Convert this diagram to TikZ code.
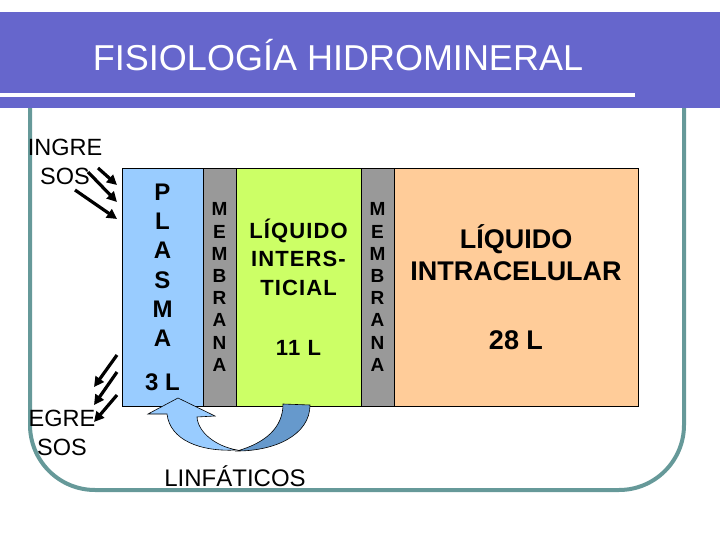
\documentclass[tikz,border=0pt]{standalone}
\usepackage{fontspec}
\setmainfont{Liberation Sans}
\usepackage{tikz}
\usetikzlibrary{arrows.meta,positioning}
\definecolor{barcol}{HTML}{6666CC}
\definecolor{framecol}{HTML}{669999}
\definecolor{plasmacol}{HTML}{99CCFF}
\definecolor{membcol}{HTML}{999999}
\definecolor{intercol}{HTML}{CCFF66}
\definecolor{intracol}{HTML}{FFCC99}
\definecolor{lymphcol}{HTML}{6699CC}
\tikzset{
	compartment/.style = {draw = black, line width = 0.8pt, inner sep = 0pt, outer sep = 0pt,
		minimum height = 238pt, align = center},
	membrane/.style = {compartment, fill = membcol, minimum width = 33pt,
		font = \bfseries\fontsize{19}{22.2}\selectfont},
	side text/.style = {align = center, font = \fontsize{23.5}{29}\selectfont},
	flow/.style = {line width = 3.2pt, -{Triangle[length = 10pt, width = 10pt]}}
}
\begin{document}
\begin{tikzpicture}[x = 1pt, y = -1pt]
			\useasboundingbox (0,0) rectangle (720,540);
			% marco redondeado
			\draw [framecol, line width = 4pt, rounded corners = 65pt]
				(30,100) -- (30,490) -- (684,490) -- (684,100);
			% titulo
			\fill [barcol] (0,12) rectangle (720,108);
			\draw [white, line width = 3.5pt] (0,95) -- (635,95);
			\node (titulo) at (338,55) [white, font = \fontsize{36}{40}\selectfont]
				{FISIOLOGÍA HIDROMINERAL};

			% compartimentos
			\node (plasma) [compartment, fill = plasmacol, minimum width = 81pt, anchor = north west,
				font = \bfseries\fontsize{24}{29.3}\selectfont] at (122,168)
				{P\\L\\A\\S\\M\\A\\[14pt]3 L};
			\node (membA) [membrane, right = 0pt of plasma] {M\\E\\M\\B\\R\\A\\N\\A};
			\node (inter) [compartment, fill = intercol, minimum width = 125pt, right = 0pt of membA,
				font = \bfseries\fontsize{22}{28.5}\selectfont\addfontfeatures{LetterSpace=5}]
				{LÍQUIDO\\INTERS-\\TICIAL\\[31.5pt]11 L};
			\node (membB) [membrane, right = 0pt of inter] {M\\E\\M\\B\\R\\A\\N\\A};
			\node (intra) [compartment, fill = intracol, minimum width = 244pt, right = 0pt of membB,
				font = \bfseries\fontsize{27}{32}\selectfont] {LÍQUIDO\\INTRACELULAR\\[37pt]28 L};

			% ingresos y egresos
			\node (ingresos) [side text] at (65,162) {INGRE\\SOS};
			\node (egresos) [side text] at (62,433) {EGRE\\SOS};
			\coordinate (in1s) at (98,168);  \coordinate (in1e) at (117,185);
			\coordinate (in2s) at (88,172);  \coordinate (in2e) at (117,202);
			\coordinate (in3s) at (75,190);  \coordinate (in3e) at (117,219);
			\draw [flow] (in1s) -- (in1e);
			\draw [flow] (in2s) -- (in2e);
			\draw [flow] (in3s) -- (in3e);
			\coordinate (out1s) at (117,355); \coordinate (out1e) at (94,387);
			\coordinate (out2s) at (117,372); \coordinate (out2e) at (94,405);
			\coordinate (out3s) at (117,395); \coordinate (out3e) at (94,422);
			\draw [flow] (out1s) -- (out1e);
			\draw [flow] (out2s) -- (out2e);
			\draw [flow] (out3s) -- (out3e);

			% linfaticos
			\draw [fill = lymphcol, line width = 0.6pt]
				(283,404) -- (310,405) .. controls (310,435) and (275,451) .. (237,451)
				.. controls (265,443) and (283,428) .. (283,404) -- cycle;
			\draw [fill = plasmacol, line width = 0.6pt]
				(167,414) -- (148,414) -- (178,398) -- (215,416) -- (197,417)
				.. controls (198,432) and (215,446) .. (237,450)
				.. controls (200,452) and (170,440) .. (167,414) -- cycle;
			\node (linfaticos) at (235,476) [font = \fontsize{24}{28}\selectfont] {LINFÁTICOS};
		\end{tikzpicture}
\end{document}
